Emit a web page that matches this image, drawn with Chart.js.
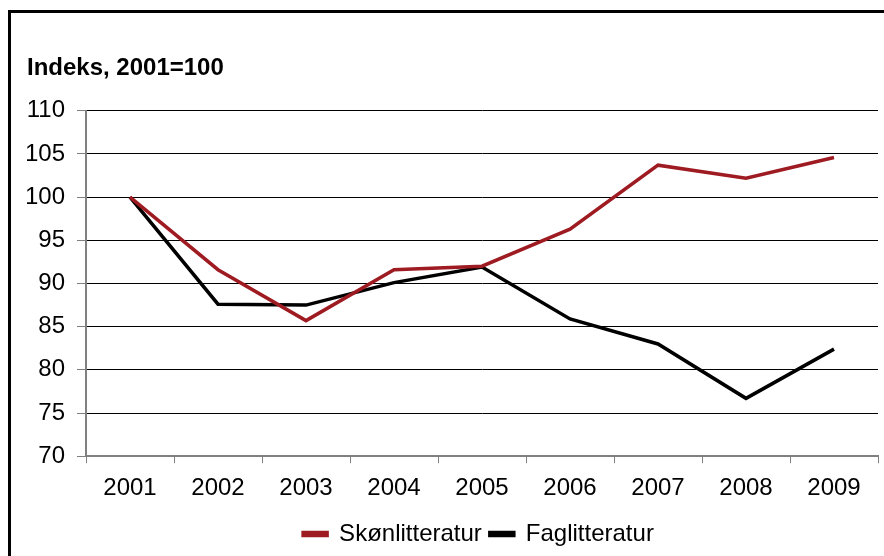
<!DOCTYPE html>
<html><head><meta charset="utf-8">
<script src="https://cdn.jsdelivr.net/npm/chart.js@4/dist/chart.umd.min.js"></script>
<style>
html,body{margin:0;padding:0;background:#fff;overflow:hidden;width:884px;height:556px;}
#frame{position:absolute;left:8px;top:10px;width:900px;height:600px;border:3px solid #000;box-sizing:border-box;}
#wrap{position:absolute;left:0;top:0;width:884px;height:556px;}
</style></head>
<body>
<div id="frame"></div>
<div id="wrap"><canvas id="c" width="884" height="556"></canvas></div>
<script>
const years = ['2001','2002','2003','2004','2005','2006','2007','2008','2009'];
const skonlitteratur = [100, 91.6, 85.7, 91.6, 92.0, 96.3, 103.7, 102.2, 104.6];
const faglitteratur = [100, 87.6, 87.5, 90.1, 91.9, 85.9, 83.0, 76.7, 82.4];
const yTicks = [70, 75, 80, 85, 90, 95, 100, 105, 110];
const titleText = 'Indeks, 2001=100';

const FONT = "'Liberation Sans', Arial, sans-serif";
const legendShift = {
  id: 'legendShift',
  afterLayout(chart) {
    if (chart.legend) { chart.legend.left += 26; chart.legend.right += 26; }
  }
};
new Chart(document.getElementById('c'), {
  type: 'line',
  data: {
    labels: years,
    datasets: [
      {label: 'Skønlitteratur', data: skonlitteratur, borderColor: '#9E1B22', backgroundColor: '#9E1B22', borderWidth: 3.5, pointRadius: 0, tension: 0},
      {label: 'Faglitteratur', data: faglitteratur, borderColor: '#000000', backgroundColor: '#000000', borderWidth: 3.5, pointRadius: 0, tension: 0}
    ]
  },
  plugins: [legendShift],
  options: {
    responsive: false,
    animation: false,
    devicePixelRatio: 1,
    layout: {padding: {left: 27, right: 6, top: 0, bottom: 0}},
    plugins: {
      title: {display: true, text: titleText, align: 'start', color: '#000',
        font: {family: FONT, size: 24, weight: 'bold'}, padding: {top: 54, bottom: 28}},
      legend: {position: 'bottom', labels: {color: '#000', font: {family: FONT, size: 24},
        boxWidth: 24, boxHeight: 3, padding: 8}},
      tooltip: {enabled: false}
    },
    scales: {
      x: {
        offset: true,
        grid: {offset: true, drawOnChartArea: false, drawTicks: true, tickLength: 7, color: '#808080', tickColor: '#808080'},
        border: {display: true, color: '#808080', width: 2},
        ticks: {color: '#000', font: {family: FONT, size: 24}, padding: 11, maxRotation: 0}
      },
      y: {
        min: 70, max: 110,
        afterFit: (s) => { s.width = 59; },
        afterBuildTicks: (s) => { s.ticks = yTicks.map(v => ({value: v})); },
        grid: {color: (ctx) => ctx.tick && ctx.tick.value === 70 ? 'rgba(0,0,0,0)' : '#000', tickColor: '#808080', tickLength: 9, lineWidth: 1},
        border: {display: true, color: '#808080', width: 2},
        ticks: {color: '#000', font: {family: FONT, size: 24}, padding: 12}
      }
    }
  }
});
</script>
</body></html>
